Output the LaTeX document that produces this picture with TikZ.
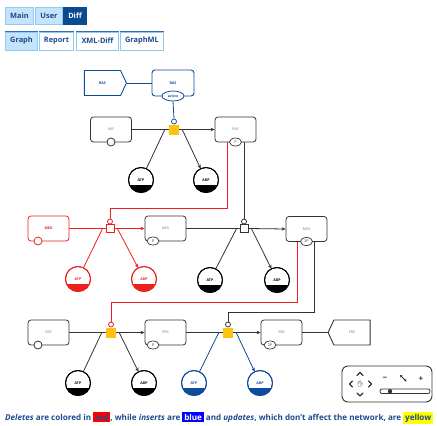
\documentclass[tikz,border=0pt]{standalone}
\usepackage{fontspec}
\setmainfont{Open Sans}
\newfontfamily\emojifont{Noto Emoji}
\usetikzlibrary{arrows.meta,shapes.symbols,shapes.geometric,calc}
\definecolor{txtblue}{HTML}{1B4B8C}
\definecolor{tabfill}{HTML}{C5E3FA}
\definecolor{tabborder}{HTML}{8FCBF0}
\definecolor{tabtop}{HTML}{2A6FB8}
\definecolor{diffblue}{HTML}{0A4A8F}
\definecolor{insblue}{HTML}{0D4C9A}
\definecolor{delred}{HTML}{F01E1E}
\definecolor{updyellow}{HTML}{FFC20E}
\definecolor{lg}{HTML}{333333}
\definecolor{capred}{HTML}{FF0000}
\definecolor{capblue}{HTML}{0000FF}
\definecolor{capyellow}{HTML}{FFFF00}
\newcommand{\tinyfont}{\fontsize{3.6}{4}\selectfont}
\newcommand{\tabfont}{\fontsize{7.4}{8}\selectfont\bfseries}
\tikzset{
  tab/.style={draw=tabborder, line width=1pt, fill=tabfill, text=txtblue, font=\tabfont, inner sep=0pt, minimum height=17pt, anchor=north west},
  tabw/.style={tab, fill=white},
  species/.style={draw=lg, rounded corners=3pt, minimum width=41pt, minimum height=25pt, inner sep=0pt, font=\tinyfont, text=gray, line width=0.8pt, fill=white},
  statecirc/.style={circle, draw=lg, fill=white, minimum size=8pt, inner sep=0pt, line width=0.8pt},
  stateell/.style={ellipse, draw=lg, fill=white, minimum width=12pt, minimum height=8pt, inner sep=0pt, line width=0.7pt, font=\tinyfont, text=lg},
  metab/.style={circle, draw=#1, line width=0.9pt, minimum size=25pt, inner sep=0pt, outer sep=0pt, fill=white, font=\tinyfont\bfseries},
  rxbox/.style={rectangle, draw=#1, fill=white, minimum size=8pt, inner sep=0pt, line width=0.8pt},
  rxyel/.style={rectangle, fill=updyellow, minimum size=10pt, inner sep=0pt},
  modc/.style={circle, draw=#1, fill=white, minimum size=5pt, inner sep=0pt, line width=0.8pt},
  conn/.style={draw=#1, line width=0.8pt},
  arr/.style={-{Stealth[length=4pt,width=3.5pt]}},
  tag/.style={signal, signal pointer angle=130, draw=#1, minimum width=42pt, minimum height=25pt, inner sep=0pt, line width=0.9pt, font=\tinyfont\bfseries, fill=white},
}
\begin{document}
\begin{tikzpicture}[x=1pt,y=-1pt]
\useasboundingbox (0,0) rectangle (437,426);
% tabs
\node[tab, minimum width=28pt] (tmain) at (5,7) {Main};
\node[tab, minimum width=27pt] (tuser) at (35,7) {User};
\node[tab, minimum width=23pt, fill=diffblue, draw=diffblue, text=white] (tdiff) at (63,7) {Diff};
\node[tab, minimum width=32pt, minimum height=18pt] (tgraph) at (5,31.5) {Graph};
\node[tabw, minimum width=34pt, minimum height=18pt] (treport) at (39,31.5) {Report};
\node[tabw, minimum width=42pt, minimum height=18pt] (txml) at (76,31.5) {XML-Diff};
\node[tabw, minimum width=43pt, minimum height=18pt] (tgml) at (120,31.5) {GraphML};
\foreach \t in {tgraph,treport,txml,tgml}{\draw[tabtop, line width=1.2pt] (\t.north west) -- (\t.north east);}

% RAS
\node[tag=insblue, signal to=east, text=insblue] (ras1) at (102.5,83) {RAS};
\node[species, draw=insblue, text=insblue, line width=0.9pt, minimum width=42pt, minimum height=26pt, font=\tinyfont\bfseries] (ras2) at (173,83) {RAS};
\node[ellipse, draw=insblue, fill=white, line width=0.8pt, minimum width=22pt, minimum height=10pt, inner sep=0pt, font=\fontsize{3.4}{4}\selectfont\bfseries, text=insblue] (act) at (173,96) {active};
\draw[conn=insblue] (ras1.east) -- (ras2.west);

% RAF row
\node[species] (raf1) at (111,129.5) {RAF};
\node[statecirc] (raf1s) at (111,142) {};
\node[species] (raf2) at (235.5,129.5) {RAF};
\node[stateell] (raf2s) at (235.5,142) {P};
\node[rxyel] (rx1) at (174,129.5) {};
\node[modc=insblue] (m1) at (174,121.5) {};
\draw[conn=insblue] (act.south) -- (m1.north);
\node[metab=black] (atp1) at (141,180) {ATP};
\node[metab=black] (adp1) at (206,180) {ADP};
\draw[conn=lg] (raf1.east) -- (rx1.west);
\draw[conn=lg,arr] (rx1.east) -- (raf2.west);
\draw[conn=lg] ([xshift=-4pt]rx1.west) -- (atp1);
\draw[conn=lg,arr] ([xshift=3pt]rx1.east) -- (adp1);

% MEK row
\node[species, draw=delred, text=delred, font=\tinyfont\bfseries] (mek1) at (48.5,228.5) {MEK};
\node[statecirc, draw=delred] (mek1s) at (38,241) {};
\node[rxbox=delred] (rx2) at (110,228.5) {};
\node[modc=delred] (m2) at (110,221.5) {};
\node[species] (mek2) at (165.5,228.5) {MEK};
\node[stateell] (mek2s) at (153,241) {P};
\node[rxbox=lg] (rx3) at (244,228.5) {};
\node[modc=lg] (m3) at (244,221.5) {};
\node[species] (mek3) at (306.5,229) {MEK};
\node[stateell] (mek3s) at (306.5,241.5) {2P};
\node[metab=delred, text=delred] (atp2) at (78,279) {ATP};
\node[metab=delred, text=delred] (adp2) at (144,279) {ADP};
\node[metab=black] (atp3) at (210,280) {ATP};
\node[metab=black] (adp3) at (277,280) {ADP};
\coordinate (c1) at (227,208);
\draw[conn=delred] ([xshift=-8.5pt]raf2.south) -- (c1) -| (m2.north);
\draw[conn=lg] ([xshift=8.5pt]raf2.south) -- (m3.north);
\draw[conn=delred] (mek1.east) -- (rx2.west);
\draw[conn=delred,arr] (rx2.east) -- (mek2.west);
\draw[conn=delred] ([xshift=-3pt]rx2.west) -- (atp2);
\draw[conn=delred,arr] ([xshift=3pt]rx2.east) -- (adp2);
\draw[conn=lg] (mek2.east) -- (rx3.west);
\draw[conn=lg,arr] (rx3.east) -- (mek3.west);
\draw[conn=lg] ([xshift=-3pt]rx3.west) -- (atp3);
\draw[conn=lg,arr] ([xshift=3pt]rx3.east) -- (adp3);

% ERK row
\node[species] (erk1) at (48.5,332.5) {ERK};
\node[statecirc] (erk1s) at (38,345) {};
\node[rxyel] (rx4) at (111,332.5) {};
\node[modc=delred] (m4) at (111,324.5) {};
\node[species] (erk2) at (165.5,332.5) {ERK};
\node[stateell] (erk2s) at (153,345) {P};
\node[rxyel] (rx5) at (228,332.5) {};
\node[modc=lg] (m5) at (228,324.5) {};
\node[species] (erk3) at (281.5,332.5) {ERK};
\node[stateell] (erk3s) at (270,345) {2P};
\node[tag=lg, signal to=west, text=gray, font=\tinyfont] (erk4) at (352,332.5) {ERK};
\node[metab=black] (atp4) at (78,383) {ATP};
\node[metab=black] (adp4) at (144,383) {ADP};
\node[metab=insblue, text=insblue] (atp5) at (194,383) {ATP};
\node[metab=insblue, text=insblue] (adp5) at (260,383) {ADP};
\coordinate (c2) at (297,302);
\coordinate (c3) at (314,312);
\draw[conn=delred] ([xshift=-9.5pt]mek3.south) -- (c2) -| (m4.north);
\draw[conn=lg] ([xshift=7.5pt]mek3.south) -- (c3) -| (m5.north);
\draw[conn=lg] (erk1.east) -- (rx4.west);
\draw[conn=lg,arr] (rx4.east) -- (erk2.west);
\draw[conn=lg] ([xshift=-4pt]rx4.west) -- (atp4);
\draw[conn=lg,arr] ([xshift=3pt]rx4.east) -- (adp4);
\draw[conn=lg] (erk2.east) -- (rx5.west);
\draw[conn=lg,arr] (rx5.east) -- (erk3.west);
\draw[conn=insblue] ([xshift=-4pt]rx5.west) -- (atp5);
\draw[conn=insblue,arr] ([xshift=3pt]rx5.east) -- (adp5);
\draw[conn=lg] (erk3.east) -- (erk4.west);

% filled lower caps of the metabolite circles
\foreach \n/\c in {atp1/black,adp1/black,atp2/delred,adp2/delred,atp3/black,adp3/black,atp4/black,adp4/black,atp5/insblue,adp5/insblue}{
  \begin{scope}
    \clip (\n.center) circle (12.5pt);
    \fill[\c] ($(\n.center)+(-14,4.5)$) rectangle ($(\n.center)+(14,14)$);
  \end{scope}
  \draw[\c, line width=0.9pt] (\n.center) circle (12.5pt);
}

% navigation widget
\node[draw=lg, rounded corners=6pt, minimum width=90pt, minimum height=36pt, line width=0.9pt, inner sep=0pt] (nav) at (387,384) {};
\begin{scope}[line width=1.3pt, draw=lg, line cap=round, line join=round]
\draw (357,375.5) -- (360,372.5) -- (363,375.5);
\draw (357,393) -- (360,396) -- (363,393);
\draw (352.5,381) -- (349.5,384) -- (352.5,387);
\draw (368.5,381) -- (371.5,384) -- (368.5,387);
\end{scope}
\node[font=\emojifont\fontsize{6.5}{7}\selectfont, text=lg, inner sep=0pt] (hand) at (360.5,384) {✋};
\node[font=\fontsize{8}{8}\selectfont\bfseries, text=lg, inner sep=0pt] (minus) at (385,379) {−};
\node[font=\fontsize{8}{8}\selectfont\bfseries, text=lg, inner sep=0pt] (plus) at (421,379) {+};
\draw[lg, line width=0.8pt, {Stealth[length=2.5pt,width=2.8pt]}-{Stealth[length=2.5pt,width=2.8pt]}] (400,375) -- (406.5,381.5);
\draw[lg, line width=0.8pt, rounded corners=2pt] (380,389) rectangle (430,393.5);
\fill[lg] (390,391.2) circle (2.2pt);

% caption
\node[anchor=west, inner sep=0pt, text=txtblue, font=\fontsize{8.1}{9}\selectfont\bfseries] (cap) at (5,418) {\setlength{\fboxsep}{1.8pt}\textit{Deletes} are colored in \colorbox{capred}{red}, while \textit{inserts} are \colorbox{capblue}{\textcolor{white}{blue}} and \textit{updates}, which don't affect the network, are \colorbox{capyellow}{yellow}};
\end{tikzpicture}
\end{document}
